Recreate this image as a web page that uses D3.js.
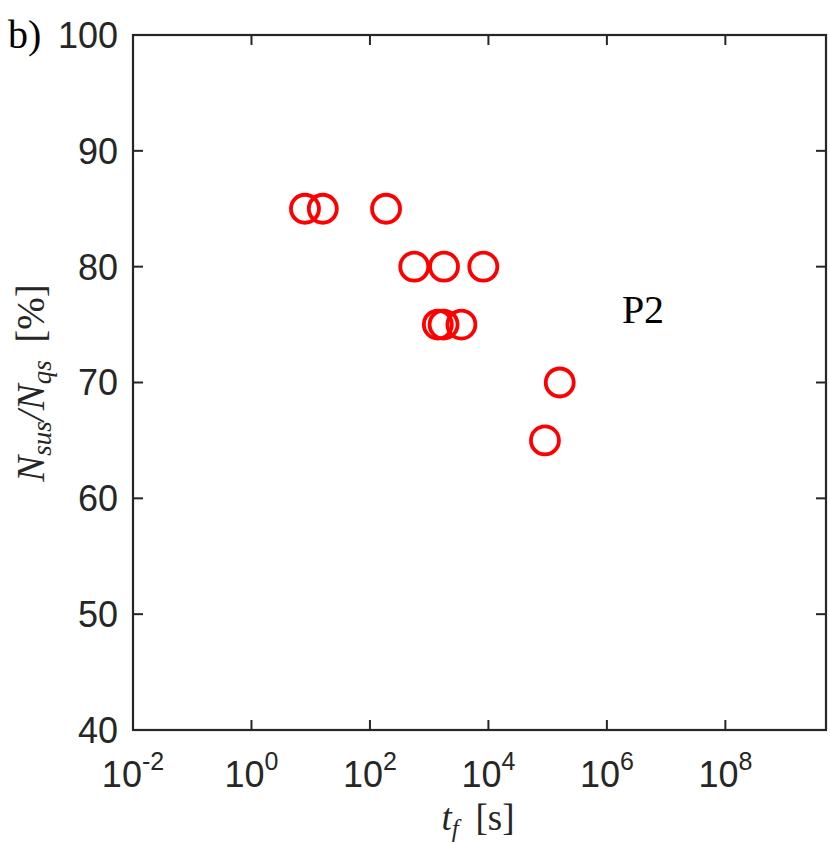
<!DOCTYPE html>
<html><head><meta charset="utf-8">
<script src="https://cdn.jsdelivr.net/npm/d3@7"></script>
<style>body{margin:0;background:#fff;} svg{display:block;}</style>
</head><body>
<script>
// Data
const tf = [8.0, 16, 187, 560, 1780, 8200, 1400, 1750, 3500, 90000, 160000];
const ratio = [85, 85, 85, 80, 80, 80, 75, 75, 75, 65, 70];
const xTickExps = [-2, 0, 2, 4, 6, 8];
const yTicks = [40, 50, 60, 70, 80, 90, 100];
const panelLabel = "b)";
const annotation = "P2";

const W = 830, H = 843;
const m = {left: 133, right: 4, top: 35, bottom: 113};
const svg = d3.select("body").append("svg").attr("width", W).attr("height", H);

const x = d3.scaleLog().domain([1e-2, 5e9]).range([m.left, W - m.right]);
const y = d3.scaleLinear().domain([40, 100]).range([H - m.bottom, m.top]);

const axisColor = "#262626";
const tickFont = "'Liberation Sans', Arial, Helvetica, sans-serif";
const serif = "'Liberation Serif', 'Times New Roman', serif";

const g = svg.append("g");

// ticks inside (bottom, top, left, right)
const tl = 10;
const xt = xTickExps.map(e => Math.pow(10, e));
g.selectAll(".xtb").data(xt).join("line")
  .attr("x1", d => x(d)).attr("x2", d => x(d))
  .attr("y1", y(40)).attr("y2", y(40) - tl)
  .attr("stroke", axisColor).attr("stroke-width", 2);
g.selectAll(".xtt").data(xt).join("line")
  .attr("x1", d => x(d)).attr("x2", d => x(d))
  .attr("y1", y(100)).attr("y2", y(100) + tl)
  .attr("stroke", axisColor).attr("stroke-width", 2);
g.selectAll(".ytl").data(yTicks).join("line")
  .attr("x1", x.range()[0]).attr("x2", x.range()[0] + tl)
  .attr("y1", d => y(d)).attr("y2", d => y(d))
  .attr("stroke", axisColor).attr("stroke-width", 2);
g.selectAll(".ytr").data(yTicks).join("line")
  .attr("x1", x.range()[1]).attr("x2", x.range()[1] - tl)
  .attr("y1", d => y(d)).attr("y2", d => y(d))
  .attr("stroke", axisColor).attr("stroke-width", 2);

// box
g.append("rect")
  .attr("x", x.range()[0]).attr("y", y(100))
  .attr("width", x.range()[1] - x.range()[0]).attr("height", y(40) - y(100))
  .attr("fill", "none").attr("stroke", axisColor).attr("stroke-width", 2.2);

// y tick labels
g.selectAll(".ylab").data(yTicks).join("text")
  .attr("x", x.range()[0] - 15).attr("y", d => y(d))
  .attr("dy", "0.36em")
  .attr("text-anchor", "end")
  .attr("font-family", tickFont).attr("font-size", 36)
  .attr("fill", axisColor)
  .text(d => d);

// x tick labels 10^e
const xl = g.selectAll(".xlab").data(xTickExps).join("text")
  .attr("x", e => x(Math.pow(10, e)))
  .attr("y", y(40) + 57)
  .attr("text-anchor", "middle")
  .attr("font-family", tickFont).attr("font-size", 36)
  .attr("fill", axisColor);
xl.append("tspan").text("10");
xl.append("tspan").attr("font-size", 25).attr("dy", -17).text(e => e);

// points
svg.append("g").selectAll("circle").data(tf.map((t, i) => [t, ratio[i]])).join("circle")
  .attr("cx", d => x(d[0])).attr("cy", d => y(d[1]))
  .attr("r", 14)
  .attr("fill", "none").attr("stroke", "#ff0000").attr("stroke-width", 3.8);

// annotation
svg.append("text")
  .attr("x", 643).attr("y", 323)
  .attr("text-anchor", "middle")
  .attr("font-family", serif).attr("font-size", 40)
  .attr("fill", "#000")
  .text(annotation);

// panel label
svg.append("text")
  .attr("x", 8).attr("y", 48)
  .attr("font-family", serif).attr("font-size", 40)
  .attr("fill", "#000")
  .text(panelLabel);

// x label: t_f [s]
const xlab = svg.append("text")
  .attr("x", 478).attr("y", 830)
  .attr("text-anchor", "middle")
  .attr("font-family", serif).attr("font-size", 37)
  .attr("fill", axisColor);
xlab.append("tspan").attr("font-style", "italic").text("t");
xlab.append("tspan").attr("font-style", "italic").attr("font-size", 25).attr("dy", 7).text("f");
xlab.append("tspan").attr("dy", -7).text("\u2009 [s]");

// y label: N_sus / N_qs [%]
const ylab = svg.append("text")
  .attr("transform", "translate(44," + 383 + ") rotate(-90)")
  .attr("text-anchor", "middle")
  .attr("font-family", serif).attr("font-size", 39)
  .attr("fill", axisColor);
ylab.append("tspan").attr("font-style", "italic").text("N");
ylab.append("tspan").attr("font-style", "italic").attr("font-size", 27).attr("dy", 7).text("sus");
ylab.append("tspan").attr("font-style", "italic").attr("dy", -7).text("/N");
ylab.append("tspan").attr("font-style", "italic").attr("font-size", 27).attr("dy", 7).text("qs");
ylab.append("tspan").attr("dy", -7).text("\u2009 [%]");
</script>
</body></html>
